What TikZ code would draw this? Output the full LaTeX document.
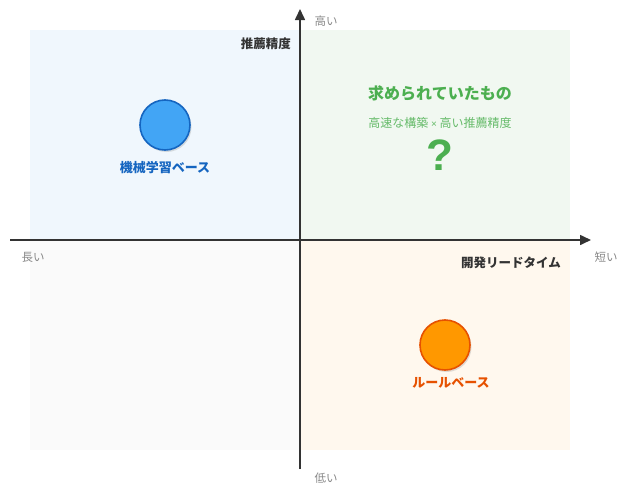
\documentclass[tikz,border=0pt]{standalone}
\usepackage{fontspec}
\setmainfont{Noto Sans CJK JP}
\newfontfamily\latinsans{Liberation Sans}
\usetikzlibrary{shadows,arrows.meta}
\definecolor{qblue}{HTML}{F0F7FD}
\definecolor{qgreen}{HTML}{F1F8F1}
\definecolor{qgray}{HTML}{FAFAFA}
\definecolor{qorange}{HTML}{FFF8EE}
\definecolor{axisc}{HTML}{333333}
\definecolor{lblgray}{HTML}{888888}
\definecolor{mlfill}{HTML}{42A5F5}
\definecolor{mldraw}{HTML}{1565C0}
\definecolor{rbfill}{HTML}{FF9800}
\definecolor{rbdraw}{HTML}{E65100}
\definecolor{gtitle}{HTML}{4CAF50}
\definecolor{gsub}{HTML}{66BB6A}
\tikzset{
  axisline/.style={draw=axisc, line width=1.6pt, -{Triangle[length=11pt,width=10pt]}},
  endlbl/.style={text=lblgray, font=\fontsize{11.5}{13}\selectfont, inner sep=0pt},
  axlbl/.style={text=axisc, font=\fontsize{12.5}{14}\selectfont\bfseries, inner sep=0pt},
  dot/.style={circle, minimum size=50pt, inner sep=0pt, line width=1.6pt, drop shadow={shadow xshift=1.5pt, shadow yshift=-2pt, opacity=0.25}},
  dotlbl/.style={font=\fontsize{13}{15}\selectfont\bfseries, inner sep=0pt}
}
\begin{document}
\begin{tikzpicture}[x=1pt,y=-1pt]
\useasboundingbox (0,0) rectangle (625,490);
% quadrants
\fill[qblue] (30,30) rectangle (300,240);
\fill[qgreen] (300,30) rectangle (570,240);
\fill[qgray] (30,240) rectangle (300,450);
\fill[qorange] (300,240) rectangle (570,450);
% axes
\coordinate (ybot) at (300,469);
\coordinate (ytop) at (300,9);
\coordinate (xl) at (10,240);
\coordinate (xr) at (591,240);
\draw[axisline] (ybot) -- (ytop);
\draw[axisline] (xl) -- (xr);
% axis end labels
\node[endlbl] (hi) at (326,21) {高い};
\node[endlbl] (lo) at (326,478) {低い};
\node[endlbl] (long) at (33,257) {長い};
\node[endlbl] (short) at (606,257) {短い};
\node[axlbl, anchor=east] (yname) at (291,44) {推薦精度};
\node[axlbl, anchor=east] (xname) at (561,263) {開発リードタイム};
% points
\node[dot, fill=mlfill, draw=mldraw] (ml) at (165,125) {};
\node[dotlbl, text=mldraw] (mllbl) at (165,168) {機械学習ベース};
\node[dot, fill=rbfill, draw=rbdraw] (rb) at (445,345) {};
\node[dotlbl, text=rbdraw] (rblbl) at (451,383) {ルールベース};
% desired
\node[font=\fontsize{16}{18}\selectfont\bfseries, text=gtitle, inner sep=0pt] (want) at (440,93) {求められていたもの};
\node[font=\fontsize{12}{13}\selectfont, text=gsub, inner sep=0pt] (wantsub) at (440,123) {高速な構築 {\latinsans\fontsize{10}{12}\selectfont ×} 高い推薦精度};
\node[font=\latinsans\fontsize{44}{46}\selectfont\bfseries, text=gtitle, inner sep=0pt] (q) at (440,155) {?};
\end{tikzpicture}
\end{document}
